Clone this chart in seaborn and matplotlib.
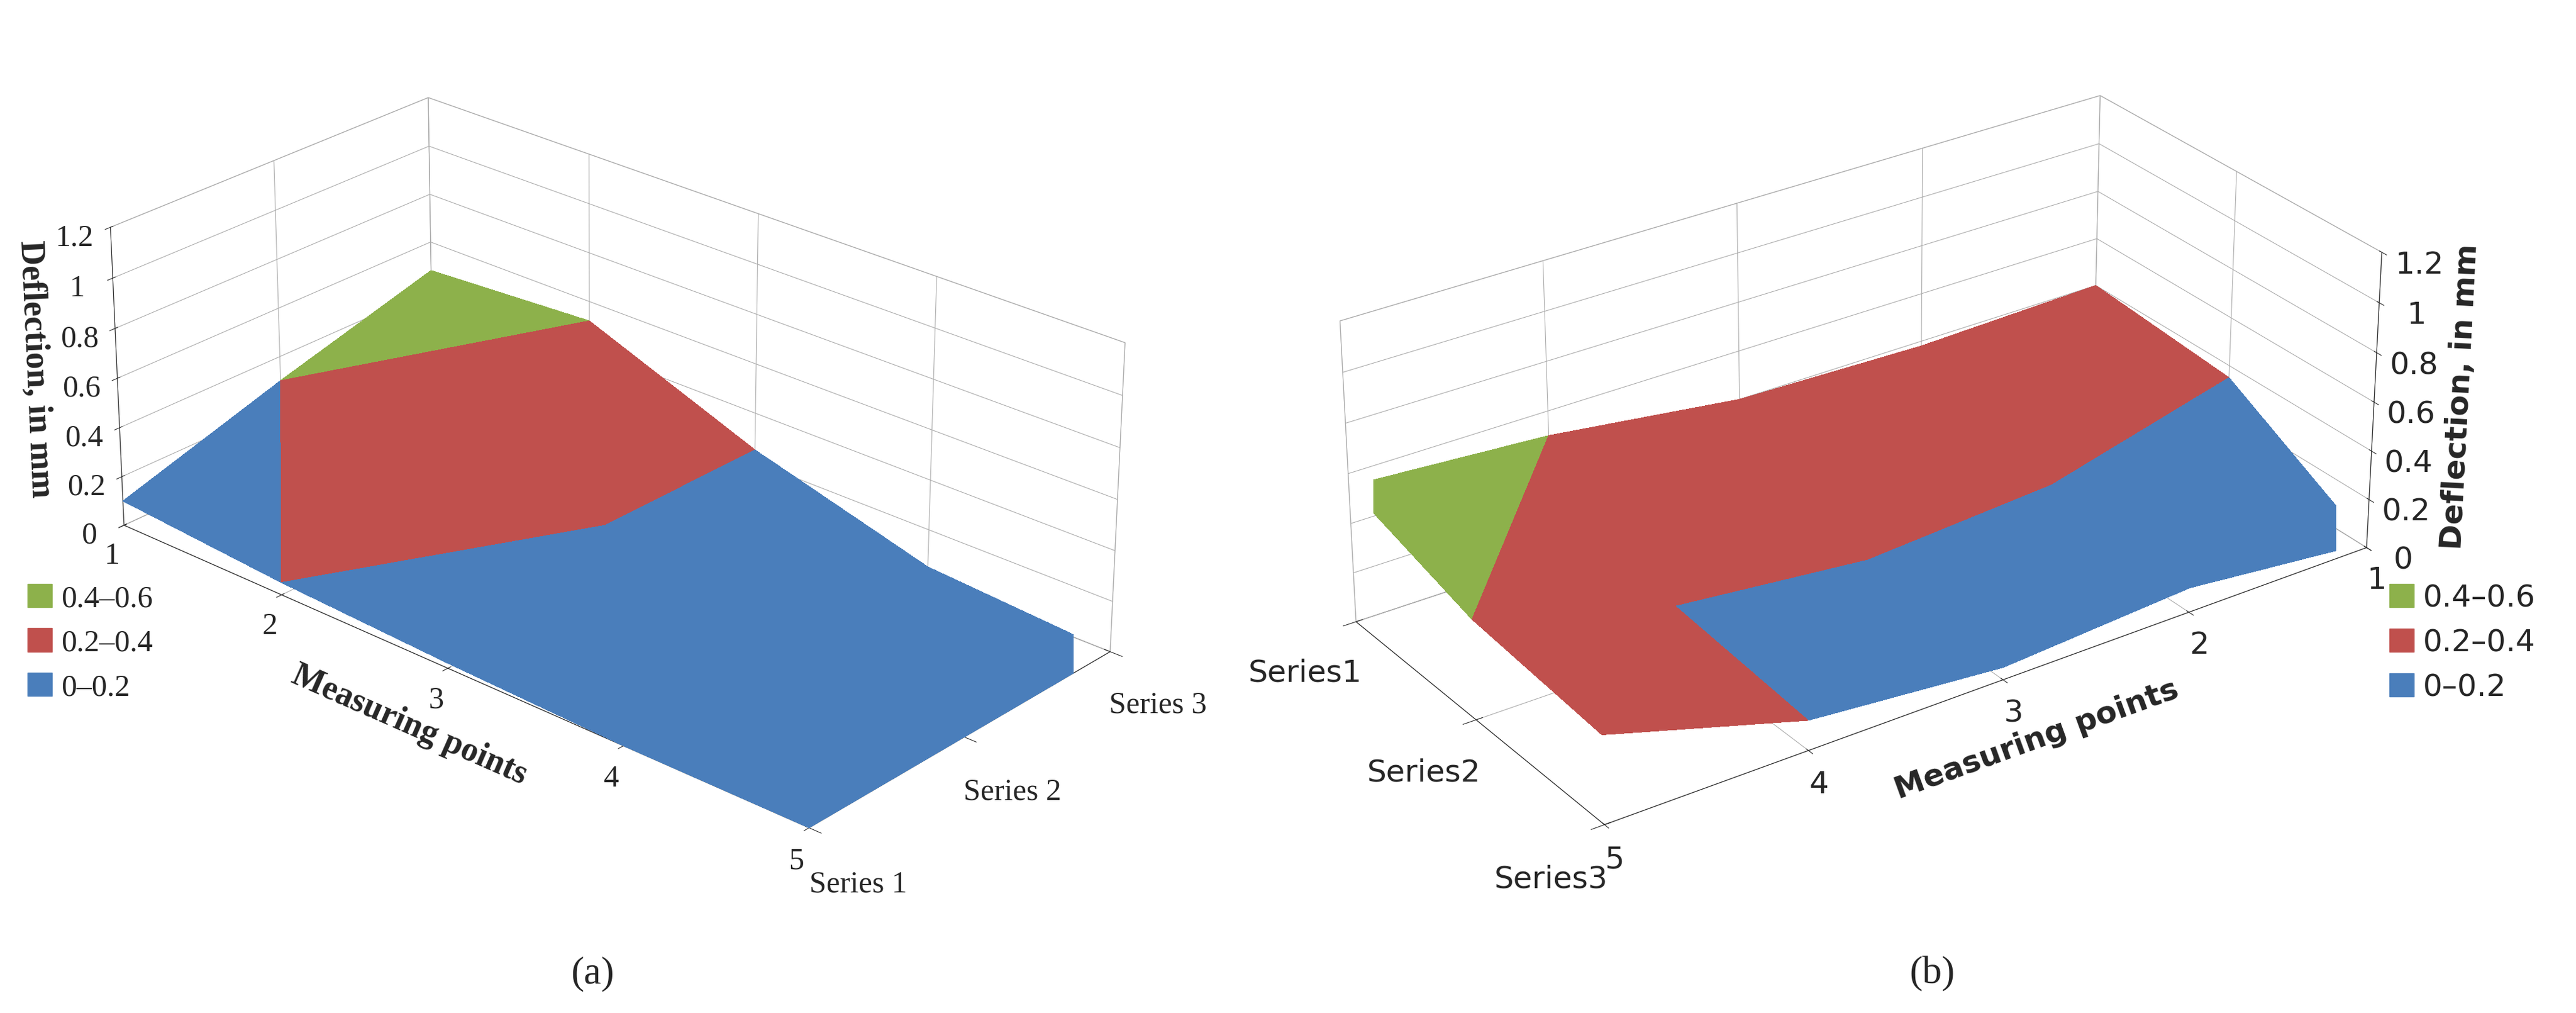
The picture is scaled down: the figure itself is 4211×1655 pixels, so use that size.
import numpy as np
import seaborn as sns
import matplotlib.pyplot as plt
from matplotlib.colors import ListedColormap, BoundaryNorm
from matplotlib.patches import Patch

sns.set_style("white")
plt.rcParams['font.family'] = ['Liberation Serif', 'DejaVu Serif']

points = [1, 2, 3, 4, 5]
series_labels = ['Series 1', 'Series 2', 'Series 3']
# deflection values (mm)
a_series1 = [0.10, 0.05, 0.02, 0.00, 0.00]
a_series2 = [0.30, 0.30, 0.25, 0.05, 0.00]
a_series3 = [0.48, 0.52, 0.25, 0.05, 0.00]
b_series1 = [0.40, 0.38, 0.40, 0.50, 0.55]
b_series2 = [0.35, 0.15, 0.10, 0.18, 0.40]
b_series3 = [0.02, 0.10, 0.05, 0.12, 0.35]
band_labels = ['0.4\u20130.6', '0.2\u20130.4', '0\u20130.2']
band_colors = ['#8db14b', '#c0504d', '#4a7ebb']

cmap = ListedColormap(band_colors[::-1])
norm = BoundaryNorm([0, 0.2, 0.4, 0.6], 3)

fig = plt.figure(figsize=(42.11, 16.56), dpi=100)


def panel(rect, data, elev, azim, aspect):
    ax = fig.add_axes(rect, projection='3d')
    X, Y = np.meshgrid(points, [1, 2, 3])
    Z = np.array(data)
    ax.plot_trisurf(X.ravel(), Y.ravel(), Z.ravel(), cmap=cmap, norm=norm,
                    linewidth=0, antialiased=False, shade=False)
    ax.set_zlim(0, 1.2)
    ax.set_xlim(1, 5)
    ax.set_ylim(1, 3)
    ax.set_xticks(points)
    ax.set_yticks([1, 2, 3])
    ax.set_zticks(np.arange(0, 1.21, 0.2))
    ax.set_zticklabels(['0', '0.2', '0.4', '0.6', '0.8', '1', '1.2'])
    ax.tick_params(labelsize=36, pad=14)
    ax.tick_params(axis='y', pad=30)
    ax.view_init(elev=elev, azim=azim)
    ax.set_box_aspect(aspect, zoom=1.1)
    for axis in (ax.xaxis, ax.yaxis, ax.zaxis):
        axis.pane.set_facecolor('white')
        axis.pane.set_edgecolor('#999999')
        axis._axinfo['grid']['color'] = '#aaaaaa'
    return ax


ax1 = panel([-0.02, 0.08, 0.5, 0.95], [a_series1, a_series2, a_series3], 26, -48, (2.2, 1.1, 0.8))
ax1.set_yticklabels(series_labels)
ax1.zaxis.set_ticks_position('lower')
ax1.zaxis.set_label_position('lower')
ax1.set_xlabel('Measuring points', fontsize=40, fontweight='bold', labelpad=50)
ax1.set_zlabel('Deflection, in mm', fontsize=40, fontweight='bold', labelpad=30)

ax2 = panel([0.47, 0.08, 0.5, 0.95], [b_series1, b_series2, b_series3], 28, 55, (2.2, 1.1, 0.8))
ax2.set_yticklabels(['Series1', 'Series2', 'Series3'], family='DejaVu Sans')
ax2.zaxis.set_ticks_position('upper')
ax2.zaxis.set_label_position('upper')
for t in ax2.get_xticklabels() + ax2.get_zticklabels():
    t.set_family('DejaVu Sans')
ax2.set_xlabel('Measuring points', fontsize=36, fontweight='bold', labelpad=50, family='DejaVu Sans')
ax2.set_zlabel('Deflection, in mm', fontsize=36, fontweight='bold', labelpad=30, family='DejaVu Sans')

handles = [Patch(color=c, label=l) for c, l in zip(band_colors, band_labels)]
fig.legend(handles=handles, loc='lower left', bbox_to_anchor=(0.0, 0.28), fontsize=36,
           frameon=False, handlelength=0.8, handleheight=0.8, handletextpad=0.3)
fig.legend(handles=handles, loc='lower right', bbox_to_anchor=(0.995, 0.28),
           frameon=False, handlelength=0.8, handleheight=0.8, handletextpad=0.3,
           prop={'family': 'DejaVu Sans', 'size': 36})

fig.text(0.23, 0.03, '(a)', ha='center', fontsize=46)
fig.text(0.75, 0.03, '(b)', ha='center', fontsize=46)

fig.savefig('out.png', dpi=100)
